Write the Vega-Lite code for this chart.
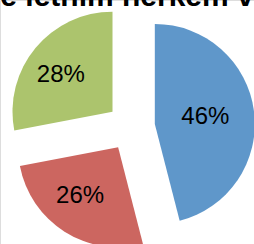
{
  "$schema": "https://vega.github.io/schema/vega-lite/v6.json",
  "width": 254,
  "height": 244,
  "autosize": "none",
  "padding": 0,
  "background": "white",
  "title": {"text": "e letním herkem v", "fontSize": 30, "font": "Liberation Sans", "fontWeight": "bold", "color": "black", "anchor": "middle", "frame": "group", "offset": 0, "baseline": "alphabetic", "dy": 36},
  "data": {"values": [
    {"category": "A", "value": 46},
    {"category": "B", "value": 26},
    {"category": "C", "value": 28}
  ]},
  "transform": [
    {"stack": "value", "groupby": [], "sort": [{"field": "category"}], "as": ["v0", "v1"]},
    {"joinaggregate": [{"op": "sum", "field": "value", "as": "total"}]},
    {"calculate": "(datum.v0 + datum.v1) / 2", "as": "vm"},
    {"calculate": "sin(2 * PI * datum.vm / datum.total)", "as": "ux"},
    {"calculate": "cos(2 * PI * datum.vm / datum.total)", "as": "uy"},
    {"calculate": "format(datum.value / datum.total, '.0%')", "as": "label"}
  ],
  "encoding": {
    "x": {"field": "ux", "type": "quantitative", "scale": {"domain": [-5.458, 5.125]}, "axis": null},
    "y": {"field": "uy", "type": "quantitative", "scale": {"domain": [-4.875, 5.292]}, "axis": null}
  },
  "layer": [
    {
      "mark": {"type": "arc", "outerRadius": 100},
      "encoding": {
        "theta": {"field": "v0", "type": "quantitative", "scale": {"domain": [0, 100]}},
        "theta2": {"field": "v1"},
        "color": {"field": "category", "type": "nominal", "scale": {"domain": ["A", "B", "C"], "range": ["#5F97CA", "#CC6660", "#ACC46D"]}, "legend": null}
      }
    },
    {
      "mark": {"type": "text", "radius": 58, "dx": -7, "fontSize": 24, "font": "Liberation Sans", "color": "black"},
      "encoding": {
        "theta": {"field": "vm", "type": "quantitative", "stack": null, "scale": {"domain": [0, 100]}},
        "text": {"field": "label"}
      }
    }
  ]
}
